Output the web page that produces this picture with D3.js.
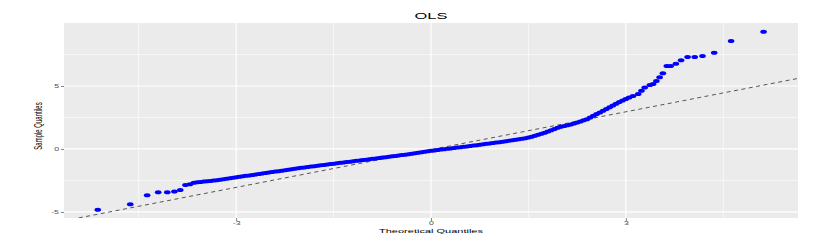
<!DOCTYPE html>
<html><head><meta charset="utf-8">
<script src="https://cdn.jsdelivr.net/npm/d3@7"></script>
<style>body{margin:0;background:#fff}svg{display:block}text{font-family:"Liberation Sans",Arial,sans-serif}</style>
</head><body>
<svg id="c" width="830" height="245"></svg>
<script>
// Theoretical quantiles (x) and sample quantiles (y)
const theoretical = [
-5.13,-4.63,-4.37,-4.20,-4.06,-3.95,-3.86,-3.78,-3.71,-3.65,
-3.60,-3.55,-3.50,-3.45,-3.40,-3.35,-3.30,-3.25,-3.20,-3.15,-3.10,-3.05,-3.00,-2.95,-2.90,-2.85,-2.80,-2.75,-2.70,-2.65,
-2.60,-2.55,-2.50,-2.45,-2.40,-2.35,-2.30,-2.25,-2.20,-2.15,-2.10,-2.05,-2.00,-1.95,-1.90,-1.85,-1.80,-1.75,-1.70,-1.65,
-1.60,-1.55,-1.50,-1.45,-1.40,-1.35,-1.30,-1.25,-1.20,-1.15,-1.10,-1.05,-1.00,-0.95,-0.90,-0.85,-0.80,-0.75,-0.70,-0.65,
-0.60,-0.55,-0.50,-0.45,-0.40,-0.35,-0.30,-0.25,-0.20,-0.15,-0.10,-0.05,0.00,0.05,0.10,0.15,0.20,0.25,0.30,0.35,
0.40,0.45,0.50,0.55,0.60,0.65,0.70,0.75,0.80,0.85,0.90,0.95,1.00,1.05,1.10,1.15,1.20,1.25,1.30,1.35,
1.40,1.45,1.50,1.55,1.60,1.65,1.70,1.75,1.80,1.85,1.90,1.95,2.00,2.05,2.10,2.15,2.20,2.25,2.30,2.35,
2.40,2.45,2.50,2.55,2.60,2.65,2.70,2.75,2.80,2.85,2.90,2.95,3.00,3.05,
3.11,3.19,3.24,3.29,3.37,3.42,3.47,3.52,3.57,3.63,3.69,3.77,3.85,3.95,4.06,4.18,4.36,4.62,5.12
];
const sample = [
-4.82,-4.39,-3.68,-3.44,-3.44,-3.38,-3.25,-2.86,-2.80,-2.69,
-2.65,-2.62,-2.59,-2.56,-2.54,-2.51,-2.48,-2.44,-2.40,-2.37,-2.33,-2.29,-2.25,-2.21,-2.17,-2.13,-2.10,-2.06,-2.02,-1.98,
-1.94,-1.90,-1.87,-1.83,-1.79,-1.76,-1.72,-1.68,-1.65,-1.61,-1.57,-1.54,-1.50,-1.47,-1.43,-1.40,-1.37,-1.33,-1.30,-1.27,
-1.23,-1.20,-1.17,-1.13,-1.10,-1.07,-1.04,-1.01,-0.97,-0.94,-0.91,-0.88,-0.85,-0.82,-0.78,-0.75,-0.72,-0.68,-0.65,-0.62,
-0.58,-0.55,-0.52,-0.48,-0.45,-0.41,-0.37,-0.34,-0.30,-0.26,-0.22,-0.19,-0.15,-0.12,-0.09,-0.05,-0.02,0.01,0.04,0.07,
0.11,0.14,0.17,0.20,0.24,0.27,0.30,0.34,0.37,0.41,0.44,0.47,0.51,0.54,0.57,0.61,0.65,0.69,0.73,0.77,
0.81,0.86,0.91,0.97,1.04,1.12,1.20,1.29,1.38,1.48,1.58,1.68,1.77,1.83,1.89,1.95,2.02,2.10,2.19,2.27,
2.36,2.50,2.63,2.77,2.90,3.04,3.17,3.31,3.45,3.59,3.72,3.85,3.97,4.08,
4.21,4.37,4.63,4.87,5.08,5.16,5.40,5.69,6.01,6.59,6.59,6.77,7.04,7.30,7.30,7.38,7.64,8.57,9.31
];
const xTicks = [-3, 0, 3];
const xMinor = [-4.5, -1.5, 1.5, 4.5];
const yTicks = [-5, 0, 5];
const yMinor = [-2.5, 2.5, 7.5];
const refLine = {slope: 1.0, intercept: -0.05};
const title = "OLS", xLabel = "Theoretical Quantiles", yLabel = "Sample Quantiles";

const svg = d3.select("#c");
const P = {l: 64, r: 798, t: 23, b: 218};
const x = d3.scaleLinear().domain([-5.65, 5.65]).range([P.l, P.r]);
const y = d3.scaleLinear().domain([-5.48, 10.0]).range([P.b, P.t]);
const SX = 1.1, SY = 0.6;

svg.append("rect").attr("x", P.l).attr("y", P.t).attr("width", P.r - P.l).attr("height", P.b - P.t).attr("fill", "#EBEBEB");
const g = svg.append("g");
g.selectAll(".vm").data(xMinor).join("line").attr("x1", d => x(d)).attr("x2", d => x(d)).attr("y1", P.t).attr("y2", P.b).attr("stroke", "#fff").attr("stroke-width", 0.6);
g.selectAll(".hm").data(yMinor).join("line").attr("y1", d => y(d)).attr("y2", d => y(d)).attr("x1", P.l).attr("x2", P.r).attr("stroke", "#fff").attr("stroke-width", 0.6);
g.selectAll(".vM").data(xTicks).join("line").attr("x1", d => x(d)).attr("x2", d => x(d)).attr("y1", P.t).attr("y2", P.b).attr("stroke", "#fff").attr("stroke-width", 1.2);
g.selectAll(".hM").data(yTicks).join("line").attr("y1", d => y(d)).attr("y2", d => y(d)).attr("x1", P.l).attr("x2", P.r).attr("stroke", "#fff").attr("stroke-width", 1.2);

// axes via d3
const fmt = d => String(d);
const xAxis = svg.append("g").attr("transform", `translate(0,${P.b})`).call(d3.axisBottom(x).tickValues(xTicks).tickSize(3).tickPadding(2).tickFormat(fmt));
const yAxis = svg.append("g").attr("transform", `translate(${P.l},0)`).call(d3.axisLeft(y).tickValues(yTicks).tickSize(3).tickPadding(2).tickFormat(fmt));
[xAxis, yAxis].forEach(a => {
  a.select(".domain").remove();
  a.selectAll(".tick line").attr("stroke", "#333").attr("stroke-width", 0.6);
  a.selectAll(".tick text").attr("fill", "#4D4D4D").attr("font-size", 8).attr("font-family", "Liberation Sans, Arial, sans-serif");
});
xAxis.selectAll(".tick text").attr("transform", `scale(${SX},${SY})`).attr("dy", "0.71em").attr("y", 4 / SY);
yAxis.selectAll(".tick text").attr("transform", `scale(${SX},${SY})`).attr("x", -5 / SX).attr("dy", "0.32em");

// clip
svg.append("clipPath").attr("id", "clip").append("rect").attr("x", P.l).attr("y", P.t).attr("width", P.r - P.l).attr("height", P.b - P.t);
const plot = svg.append("g").attr("clip-path", "url(#clip)");
const xd = x.domain();
plot.append("line")
  .attr("x1", x(xd[0])).attr("y1", y(refLine.intercept + refLine.slope * xd[0]))
  .attr("x2", x(xd[1])).attr("y2", y(refLine.intercept + refLine.slope * xd[1]))
  .attr("stroke", "#444").attr("stroke-width", 0.9).attr("stroke-dasharray", "4,3.5");

plot.selectAll("ellipse").data(theoretical).join("ellipse")
  .attr("cx", d => x(d)).attr("cy", (d, i) => y(sample[i])).attr("rx", 3.3).attr("ry", 2).attr("fill", "#0000FF");

// texts
function stxt(txt, cx, cy, size, rot, col) {
  const t = svg.append("text").text(txt).attr("font-size", size).attr("fill", col).attr("text-anchor", "middle");
  if (rot) t.attr("transform", `translate(${cx},${cy}) rotate(-90) scale(${SY},${SX})`);
  else t.attr("transform", `translate(${cx},${cy}) scale(${SX},${SY})`);
  return t;
}
stxt(title, 431, 19, 15, false, "#000");
stxt(xLabel, 431, 232.5, 10, false, "#000");
stxt(yLabel, 42, 126, 10, true, "#000");
</script>
</body></html>
